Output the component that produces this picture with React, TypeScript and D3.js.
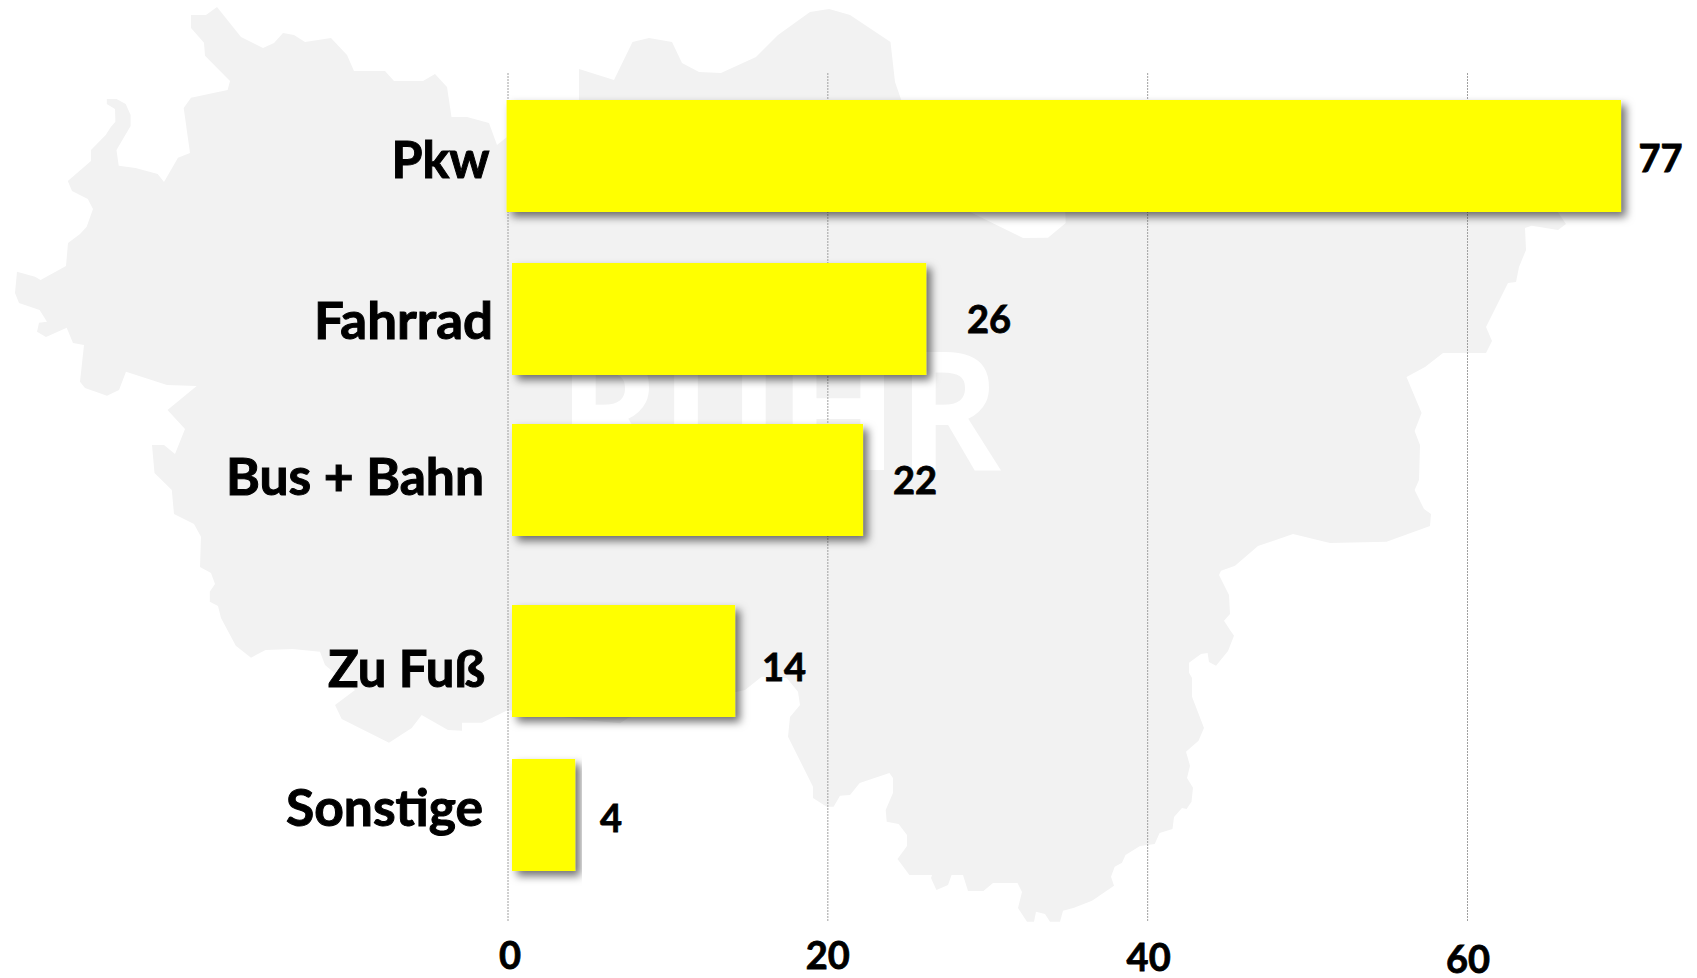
import React from "react";
import * as d3 from "d3";

// ---- data -------------------------------------------------------------
const categories = ["Pkw", "Fahrrad", "Bus + Bahn", "Zu Fuß", "Sonstige"];
const valueLabels = [77, 26, 22, 14, 4];
// how far each bar reaches on the drawn axis (the original bars are hand-fitted)
const barEnds = [69.6, 26.15, 22.2, 14.2, 4.2];
const barStarts = [-0.09, 0.25, 0.25, 0.25, 0.25];
const axisTicks = [0, 20, 40, 60];

// ---- layout (separate from the data) ----------------------------------
const W = 1697;
const H = 978;
const rowNudge = [0, -2, -6, 10, -1];
const catBaselineNudge = [21.5, 20, 15, 25.7, 10.5];
const catRight = [489.5, 493, 484, 485, 483];
const catWidth = [98, 179, 258, 157, 197];
const valueCx = [1660.5, 989, 915, 784, 611];
const valueDy = [16, 14, 14, 20, 17];
const tickDx = [2, 0, 1, 0.5];
const tickBase = [969, 969, 971, 973];

// background region outline, traced as [x, y] pairs
const regionOutline: [number, number][] = [
  [191,15],[206,15],[217,7],[241,37],[263,48],[274,43],[283,33],[294,35],[305,42],[331,38],[347,55],[354,71],[385,71],[394,81],[423,81],[435,74],[447,87],[451.5,117],[467,117],[489,123],[497,145],[507,137],[579,130],
  [579,69],[614,80],[632.5,42],[649,38],[672,42],[682,63],[699,72],[721,73],[756,57],[778,35],[810,12],[829,9],[850,15],[890.5,42],[895,82],[903,105],[950,200],[970,212],
  [1023,238],[1048,237.7],[1065.7,223],[1065,205],[1553,205],[1566,224],[1558,230],[1531.7,225.7],[1525,228],[1526,250],[1519,267],[1516,282],[1508,283],[1486,327],[1492,341],[1486,353],[1443,353],[1425,367],[1406.5,377],[1421.6,413],[1414.6,431],[1420,445],[1419,480],[1414.6,490],
  [1424,509],[1431,514],[1430,526],[1386.5,541.7],[1330,543],[1293,534],[1258,546],[1235,565.7],[1221,570.7],[1219,575],[1229,595],[1230,614],[1224,620.7],[1230,630],[1234,635.7],[1228,651],[1216,665.7],[1209,662],[1207.6,653],[1201,654],[1189,662.7],[1189,672.7],[1192,678],[1192,696.7],[1204,728],[1198.5,740.7],[1186,751.7],[1190,765.7],[1187,778],[1193,787.7],[1191.5,801.7],[1186.6,809],[1182,808],[1174,817],[1172.5,829],[1159.6,833],[1154.7,844],[1140,846],[1125.5,855],[1122,862.7],[1114.7,866.7],[1111,876.7],[1114,885.7],[1092,900.7],[1074,907.7],[1063,910.7],[1060,921.7],[1050,921.7],[1045,914],[1036,911.7],[1034,921.7],[1027,921.7],[1018,908],[1022,892],[1017.5,883],[993,883],[983.4,891],[968,891],[963,875],[951.6,875],[948,885],[936.4,890],[931,878],[932,875],[909.4,875],[897.5,859],[907,846],[907,835],[898.6,824],[886.7,821.7],[885.7,810],[893,793],[893,778],[889.4,773],[859.7,783],[850,795],
  [840,795.7],[833.6,806.7],[826.7,806.7],[813,798],[813,786.7],[788,736.7],[790,717],[800,705],[798,691.7],[786.7,678],[761.7,676.7],[745,690],[700,700],[628,718],[620,723.3],[585,720],[508,710],
  [482,722.7],[462,722.7],[462,730.7],[448,730],[421.7,715],[411.7,728],[389,742.7],[341.7,719],[335,705],[355,690],[325,665],[320,651.7],[292.7,649],[265.6,650],[251,657.7],[235.8,645.7],[221,618],[218,606],[209.8,601.7],[209.8,591.7],[215,584],[211,573],[200,567],[201,536.7],[194,524],[174,514],[171.8,490],
  [154.5,473],[152,445],[164,445],[175,454],[185,429],[167.5,410],[196.7,386],[167,385],[126,371.7],[119,390],[107,395.7],[85,388],[80,381.7],[84,345],[73,343],[66.7,327.7],[46,337],[37,331.7],[39,322.7],[47,321.7],[39.6,310],[19,303],[15,293],[17,271.7],[35,276.7],[40.6,280],[66,266],[68,243],[80,234],[86.7,226.7],[93,209],[87.8,199],[72,191],[67.8,181],[91,161],[91,150],[105.7,135],[111,126.7],[115.4,121.7],[115,109],[106.8,104],[106.8,99],[116.5,99],[125.7,104],[130.6,115],[130.6,126],[116.5,150],[118.7,165.7],[135.5,168],[157.7,174],[164,182],[178,157.7],[190,153],[183.7,108],[191,97.7],[227.6,90],[230,81],[205,55.7],[204,42.7],[191,28],
];

const x = d3.scaleLinear().domain([0, 60]).range([508, 1467.5]);
const y = d3.scalePoint<string>().domain(categories).range([156, 816]);
const barHeight = 112;
const regionPath = d3.line()(regionOutline) + "Z";
const labelFont = "Lato, 'Noto Sans', sans-serif";

export default function App() {
  return (
    <svg
      width={W}
      height={H}
      viewBox={`0 0 ${W} ${H}`}
      style={{ position: "absolute", left: 0, top: 0, display: "block", background: "#fff" }}
    >
      <defs>
        <filter id="barShadow" x="-10%" y="-20%" width="120%" height="140%">
          <feDropShadow dx={5} dy={5} stdDeviation={4} floodColor="#000" floodOpacity={0.55} />
        </filter>
      </defs>

      <path d={regionPath} fill="#f2f2f2" />
      <text
        x={558}
        y={470}
        textLength={443}
        lengthAdjust="spacingAndGlyphs"
        fontFamily="'Open Sans', sans-serif"
        fontWeight={700}
        fontSize={165}
        fill="#ffffff"
      >
        RUHR
      </text>

      {axisTicks.map((t) => (
        <line
          key={t}
          x1={x(t)}
          x2={x(t)}
          y1={73}
          y2={921}
          stroke="#a0a0a0"
          strokeWidth={1}
          strokeDasharray="2 1"
        />
      ))}

      {categories.map((c, i) => {
        const cy = (y(c) as number) + rowNudge[i];
        return (
          <g key={c}>
            <rect
              x={x(barStarts[i])}
              y={cy - barHeight / 2}
              width={x(barEnds[i]) - x(barStarts[i])}
              height={barHeight}
              fill="#ffff00"
              filter="url(#barShadow)"
            />
            <text
              x={catRight[i] - catWidth[i]}
              y={cy + catBaselineNudge[i]}
              textLength={catWidth[i]}
              lengthAdjust="spacingAndGlyphs"
              fontFamily={labelFont}
              fontWeight={700}
              fontSize={51}
              stroke="#000"
              strokeWidth={1}
              fill="#000"
            >
              {c}
            </text>
            <text
              x={valueCx[i]}
              y={cy + valueDy[i]}
              textAnchor="middle"
              fontFamily={labelFont}
              fontWeight={700}
              fontSize={38}
              stroke="#000"
              strokeWidth={0.8}
              fill="#000"
            >
              {valueLabels[i]}
            </text>
          </g>
        );
      })}

      {axisTicks.map((t, i) => (
        <text
          key={t}
          x={x(t) + tickDx[i]}
          y={tickBase[i]}
          textAnchor="middle"
          fontFamily={labelFont}
          fontWeight={700}
          fontSize={38}
          stroke="#000"
          strokeWidth={0.8}
          fill="#000"
        >
          {t}
        </text>
      ))}
    </svg>
  );
}
